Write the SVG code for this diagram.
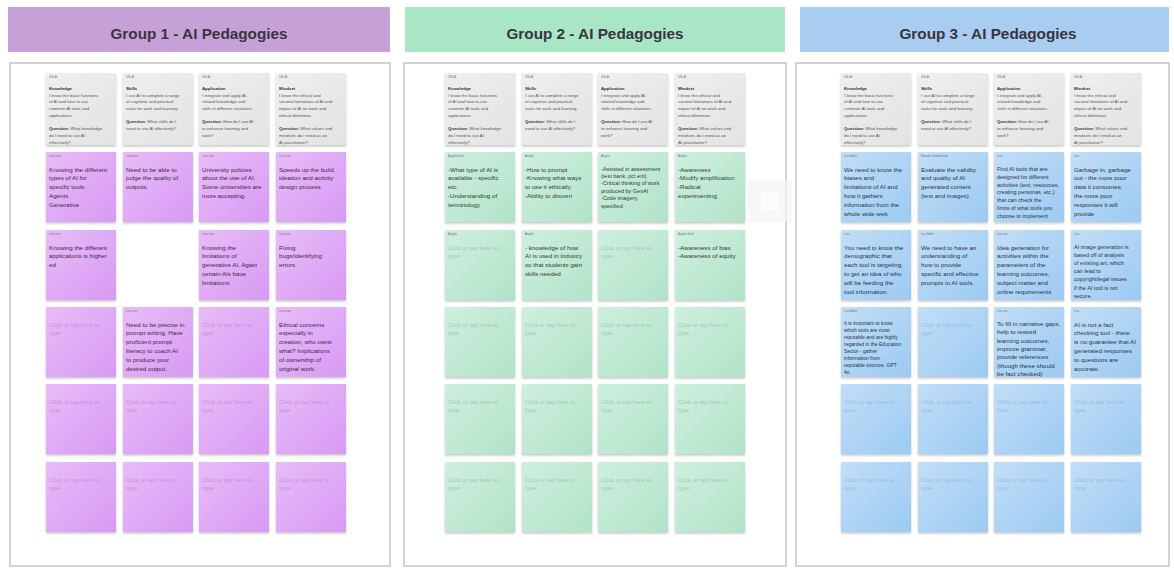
<svg xmlns="http://www.w3.org/2000/svg" width="1174" height="569" viewBox="0 0 1174 569">
  <defs>
    <linearGradient id="grad-purple" x1="0" y1="0" x2="1" y2="1">
      <stop offset="0" stop-color="#e8bcf8"/>
      <stop offset="1" stop-color="#d89af3"/>
    </linearGradient>
    <linearGradient id="grad-green" x1="0" y1="0" x2="1" y2="1">
      <stop offset="0" stop-color="#cfefdf"/>
      <stop offset="1" stop-color="#b1e3c8"/>
    </linearGradient>
    <linearGradient id="grad-blue" x1="0" y1="0" x2="1" y2="1">
      <stop offset="0" stop-color="#c2def7"/>
      <stop offset="1" stop-color="#9ccaf2"/>
    </linearGradient>
    <linearGradient id="grad-gray" x1="0" y1="0" x2="1" y2="1">
      <stop offset="0" stop-color="#efefef"/>
      <stop offset="1" stop-color="#e3e3e3"/>
    </linearGradient>
    <filter id="lift" x="-10%" y="-10%" width="120%" height="125%">
      <feDropShadow dx="0" dy="1.6" stdDeviation="1" flood-color="#000" flood-opacity="0.22"/>
    </filter>
    <style>
      text { font-family: "Liberation Sans", Arial, sans-serif; }
      .hdr-text { font-size: 15.3px; font-weight: bold; fill: #3a3440; text-anchor: middle; }
      .frame { fill: #ffffff; stroke: #c8c8c8; stroke-width: 1.6; }
      .sticky { filter: url(#lift); }
      .purple { fill: url(#grad-purple); }
      .green { fill: url(#grad-green); }
      .blue { fill: url(#grad-blue); }
      .card { fill: url(#grad-gray); filter: url(#lift); }
      .who { font-size: 2.8px; fill: #6f6f6f; }
      .note { font-size: 6.2px; }
      .note.small { font-size: 5.5px; }
      .note.tiny { font-size: 5px; }
      .p-ink { fill: #3b2a47; }
      .g-ink { fill: #2f3d35; }
      .b-ink { fill: #25364a; }
      .hint { font-size: 6px; }
      .p-hint { fill: #c690df; }
      .g-hint { fill: #9ccbb2; }
      .b-hint { fill: #94bde3; }
      .ctext { font-size: 4.3px; fill: #555; }
      .ctitle { font-weight: bold; fill: #333; }
      .ghost { fill: #f3f3f3; opacity: 0.7; }
    </style>
  </defs>

  <rect width="1174" height="569" fill="#ffffff"/>

  <!-- ===== Column headers ===== -->
  <g id="header-1">
    <rect x="8" y="7" width="382" height="45" fill="#c6a1d8"/>
    <text class="hdr-text" x="199" y="39">Group 1 - AI Pedagogies</text>
  </g>
  <g id="header-2">
    <rect x="405" y="7" width="380" height="45" fill="#a9e6c6"/>
    <text class="hdr-text" x="595" y="39">Group 2 - AI Pedagogies</text>
  </g>
  <g id="header-3">
    <rect x="800" y="7" width="369" height="45" fill="#a8cdf1"/>
    <text class="hdr-text" x="988" y="39">Group 3 - AI Pedagogies</text>
  </g>

  <!-- ===== Boards ===== -->
  <g id="board-1"><rect class="frame" x="10" y="63" width="380" height="503"/></g>
  <g id="board-2"><rect class="frame" x="404" y="63" width="382" height="503"/></g>
  <g id="board-3"><rect class="frame" x="796" y="63" width="373" height="503"/></g>

  <!-- ===== Framework cards (grey) ===== -->
  <!-- Group 1 -->
  <g id="g1-knowledge" transform="translate(46,73)">
    <rect class="card" width="70" height="72"/>
    <text class="who" x="3" y="5">UNI-AI</text>
    <text class="ctext" x="3" y="17"><tspan class="ctitle">Knowledge</tspan><tspan x="3" dy="6.7">I know the basic functions</tspan><tspan x="3" dy="6.7">of AI and how to use</tspan><tspan x="3" dy="6.7">common AI tools and</tspan><tspan x="3" dy="6.7">applications.</tspan><tspan x="3" dy="13.3" class="ctitle">Question:</tspan> What knowledge<tspan x="3" dy="6.7">do I need to use AI</tspan><tspan x="3" dy="6.7">effectively?</tspan></text>
  </g>
  <g id="g1-skills" transform="translate(123,73)">
    <rect class="card" width="70" height="72"/>
    <text class="who" x="3" y="5">UNI-AI</text>
    <text class="ctext" x="3" y="17"><tspan class="ctitle">Skills</tspan><tspan x="3" dy="6.7">I use AI to complete a range</tspan><tspan x="3" dy="6.7">of cognitive and practical</tspan><tspan x="3" dy="6.7">tasks for work and learning.</tspan><tspan x="3" dy="13.3" class="ctitle">Question:</tspan> What skills do I<tspan x="3" dy="6.7">need to use AI effectively?</tspan></text>
  </g>
  <g id="g1-application" transform="translate(199,73)">
    <rect class="card" width="70" height="72"/>
    <text class="who" x="3" y="5">UNI-AI</text>
    <text class="ctext" x="3" y="17"><tspan class="ctitle">Application</tspan><tspan x="3" dy="6.7">I integrate and apply AI-</tspan><tspan x="3" dy="6.7">related knowledge and</tspan><tspan x="3" dy="6.7">skills in different situations.</tspan><tspan x="3" dy="13.3" class="ctitle">Question:</tspan> How do I use AI<tspan x="3" dy="6.7">to enhance learning and</tspan><tspan x="3" dy="6.7">work?</tspan></text>
  </g>
  <g id="g1-mindset" transform="translate(276,73)">
    <rect class="card" width="70" height="72"/>
    <text class="who" x="3" y="5">UNI-AI</text>
    <text class="ctext" x="3" y="17"><tspan class="ctitle">Mindset</tspan><tspan x="3" dy="6.7">I know the ethical and</tspan><tspan x="3" dy="6.7">societal limitations of AI and</tspan><tspan x="3" dy="6.7">impact of AI on work and</tspan><tspan x="3" dy="6.7">ethical dilemmas.</tspan><tspan x="3" dy="13.3" class="ctitle">Question:</tspan> What values and<tspan x="3" dy="6.7">mindsets do I need as an</tspan><tspan x="3" dy="6.7">AI practitioner?</tspan></text>
  </g>
  <!-- Group 2 -->
  <g id="g2-knowledge" transform="translate(445,73)">
    <rect class="card" width="70" height="72"/>
    <text class="who" x="3" y="5">UNI-AI</text>
    <text class="ctext" x="3" y="17"><tspan class="ctitle">Knowledge</tspan><tspan x="3" dy="6.7">I know the basic functions</tspan><tspan x="3" dy="6.7">of AI and how to use</tspan><tspan x="3" dy="6.7">common AI tools and</tspan><tspan x="3" dy="6.7">applications.</tspan><tspan x="3" dy="13.3" class="ctitle">Question:</tspan> What knowledge<tspan x="3" dy="6.7">do I need to use AI</tspan><tspan x="3" dy="6.7">effectively?</tspan></text>
  </g>
  <g id="g2-skills" transform="translate(522,73)">
    <rect class="card" width="70" height="72"/>
    <text class="who" x="3" y="5">UNI-AI</text>
    <text class="ctext" x="3" y="17"><tspan class="ctitle">Skills</tspan><tspan x="3" dy="6.7">I use AI to complete a range</tspan><tspan x="3" dy="6.7">of cognitive and practical</tspan><tspan x="3" dy="6.7">tasks for work and learning.</tspan><tspan x="3" dy="13.3" class="ctitle">Question:</tspan> What skills do I<tspan x="3" dy="6.7">need to use AI effectively?</tspan></text>
  </g>
  <g id="g2-application" transform="translate(598,73)">
    <rect class="card" width="70" height="72"/>
    <text class="who" x="3" y="5">UNI-AI</text>
    <text class="ctext" x="3" y="17"><tspan class="ctitle">Application</tspan><tspan x="3" dy="6.7">I integrate and apply AI-</tspan><tspan x="3" dy="6.7">related knowledge and</tspan><tspan x="3" dy="6.7">skills in different situations.</tspan><tspan x="3" dy="13.3" class="ctitle">Question:</tspan> How do I use AI<tspan x="3" dy="6.7">to enhance learning and</tspan><tspan x="3" dy="6.7">work?</tspan></text>
  </g>
  <g id="g2-mindset" transform="translate(675,73)">
    <rect class="card" width="70" height="72"/>
    <text class="who" x="3" y="5">UNI-AI</text>
    <text class="ctext" x="3" y="17"><tspan class="ctitle">Mindset</tspan><tspan x="3" dy="6.7">I know the ethical and</tspan><tspan x="3" dy="6.7">societal limitations of AI and</tspan><tspan x="3" dy="6.7">impact of AI on work and</tspan><tspan x="3" dy="6.7">ethical dilemmas.</tspan><tspan x="3" dy="13.3" class="ctitle">Question:</tspan> What values and<tspan x="3" dy="6.7">mindsets do I need as an</tspan><tspan x="3" dy="6.7">AI practitioner?</tspan></text>
  </g>
  <!-- Group 3 -->
  <g id="g3-knowledge" transform="translate(841,73)">
    <rect class="card" width="70" height="72"/>
    <text class="who" x="3" y="5">UNI-AI</text>
    <text class="ctext" x="3" y="17"><tspan class="ctitle">Knowledge</tspan><tspan x="3" dy="6.7">I know the basic functions</tspan><tspan x="3" dy="6.7">of AI and how to use</tspan><tspan x="3" dy="6.7">common AI tools and</tspan><tspan x="3" dy="6.7">applications.</tspan><tspan x="3" dy="13.3" class="ctitle">Question:</tspan> What knowledge<tspan x="3" dy="6.7">do I need to use AI</tspan><tspan x="3" dy="6.7">effectively?</tspan></text>
  </g>
  <g id="g3-skills" transform="translate(918,73)">
    <rect class="card" width="70" height="72"/>
    <text class="who" x="3" y="5">UNI-AI</text>
    <text class="ctext" x="3" y="17"><tspan class="ctitle">Skills</tspan><tspan x="3" dy="6.7">I use AI to complete a range</tspan><tspan x="3" dy="6.7">of cognitive and practical</tspan><tspan x="3" dy="6.7">tasks for work and learning.</tspan><tspan x="3" dy="13.3" class="ctitle">Question:</tspan> What skills do I<tspan x="3" dy="6.7">need to use AI effectively?</tspan></text>
  </g>
  <g id="g3-application" transform="translate(994,73)">
    <rect class="card" width="70" height="72"/>
    <text class="who" x="3" y="5">UNI-AI</text>
    <text class="ctext" x="3" y="17"><tspan class="ctitle">Application</tspan><tspan x="3" dy="6.7">I integrate and apply AI-</tspan><tspan x="3" dy="6.7">related knowledge and</tspan><tspan x="3" dy="6.7">skills in different situations.</tspan><tspan x="3" dy="13.3" class="ctitle">Question:</tspan> How do I use AI<tspan x="3" dy="6.7">to enhance learning and</tspan><tspan x="3" dy="6.7">work?</tspan></text>
  </g>
  <g id="g3-mindset" transform="translate(1071,73)">
    <rect class="card" width="70" height="72"/>
    <text class="who" x="3" y="5">UNI-AI</text>
    <text class="ctext" x="3" y="17"><tspan class="ctitle">Mindset</tspan><tspan x="3" dy="6.7">I know the ethical and</tspan><tspan x="3" dy="6.7">societal limitations of AI and</tspan><tspan x="3" dy="6.7">impact of AI on work and</tspan><tspan x="3" dy="6.7">ethical dilemmas.</tspan><tspan x="3" dy="13.3" class="ctitle">Question:</tspan> What values and<tspan x="3" dy="6.7">mindsets do I need as an</tspan><tspan x="3" dy="6.7">AI practitioner?</tspan></text>
  </g>

  <!-- ===== Group 1 sticky notes (purple) ===== -->
  <g id="g1-r1c1" transform="translate(46,152)">
    <rect class="sticky purple" width="70" height="70"/>
    <text class="who" x="3" y="5">Lesa Lee</text>
    <text class="note p-ink" x="3" y="19.5"><tspan x="3">Knowing the different</tspan><tspan x="3" dy="8.8">types of AI for</tspan><tspan x="3" dy="8.8">specific tools</tspan><tspan x="3" dy="8.8">Agents</tspan><tspan x="3" dy="8.8">Generative</tspan></text>
  </g>
  <g id="g1-r1c2" transform="translate(123,152)">
    <rect class="sticky purple" width="70" height="70"/>
    <text class="who" x="3" y="5">Lesa Lee</text>
    <text class="note p-ink" x="3" y="19.5"><tspan x="3">Need to be able to</tspan><tspan x="3" dy="8.8">judge the quality of</tspan><tspan x="3" dy="8.8">outputs.</tspan></text>
  </g>
  <g id="g1-r1c3" transform="translate(199,152)">
    <rect class="sticky purple" width="70" height="70"/>
    <text class="who" x="3" y="5">Lesa Lee</text>
    <text class="note p-ink" x="3" y="19.5"><tspan x="3">University policies</tspan><tspan x="3" dy="8.8">about the use of AI.</tspan><tspan x="3" dy="8.8">Some universities are</tspan><tspan x="3" dy="8.8">more accepting.</tspan></text>
  </g>
  <g id="g1-r1c4" transform="translate(276,152)">
    <rect class="sticky purple" width="70" height="70"/>
    <text class="who" x="3" y="5">Lesa Lee</text>
    <text class="note p-ink" x="3" y="19.5"><tspan x="3">Speeds up the build,</tspan><tspan x="3" dy="8.8">ideation and activity</tspan><tspan x="3" dy="8.8">design process.</tspan></text>
  </g>
  <g id="g1-r2c1" transform="translate(46,230)">
    <rect class="sticky purple" width="70" height="70"/>
    <text class="who" x="3" y="5">Lesa Lee</text>
    <text class="note p-ink" x="3" y="19.5"><tspan x="3">Knowing the different</tspan><tspan x="3" dy="8.8">applications is higher</tspan><tspan x="3" dy="8.8">ed</tspan></text>
  </g>
  <g id="g1-r2c3" transform="translate(199,230)">
    <rect class="sticky purple" width="70" height="70"/>
    <text class="who" x="3" y="5">Lesa Lee</text>
    <text class="note p-ink" x="3" y="19.5"><tspan x="3">Knowing the</tspan><tspan x="3" dy="8.8">limitations of</tspan><tspan x="3" dy="8.8">generative AI. Again</tspan><tspan x="3" dy="8.8">certain AIs have</tspan><tspan x="3" dy="8.8">limitations</tspan></text>
  </g>
  <g id="g1-r2c4" transform="translate(276,230)">
    <rect class="sticky purple" width="70" height="70"/>
    <text class="who" x="3" y="5">Lesa Lee</text>
    <text class="note p-ink" x="3" y="19.5"><tspan x="3">Fixing</tspan><tspan x="3" dy="8.8">bugs/identifying</tspan><tspan x="3" dy="8.8">errors</tspan></text>
  </g>
  <g id="g1-r3c1" transform="translate(46,307)">
    <rect class="sticky purple" width="70" height="70"/>
    <text class="hint p-hint" x="3" y="19.5"><tspan x="3">Click or tap here to</tspan><tspan x="3" dy="8.8">type</tspan></text>
  </g>
  <g id="g1-r3c2" transform="translate(123,307)">
    <rect class="sticky purple" width="70" height="70"/>
    <text class="who" x="3" y="5">Lesa Lee</text>
    <text class="note p-ink" x="3" y="19.5"><tspan x="3">Need to be precise in</tspan><tspan x="3" dy="8.8">prompt writing. Have</tspan><tspan x="3" dy="8.8">proficient prompt</tspan><tspan x="3" dy="8.8">literacy to coach AI</tspan><tspan x="3" dy="8.8">to produce your</tspan><tspan x="3" dy="8.8">desired output.</tspan></text>
  </g>
  <g id="g1-r3c3" transform="translate(199,307)">
    <rect class="sticky purple" width="70" height="70"/>
    <text class="hint p-hint" x="3" y="19.5"><tspan x="3">Click or tap here to</tspan><tspan x="3" dy="8.8">type</tspan></text>
  </g>
  <g id="g1-r3c4" transform="translate(276,307)">
    <rect class="sticky purple" width="70" height="70"/>
    <text class="who" x="3" y="5">Lesa Lee</text>
    <text class="note p-ink" x="3" y="19.5"><tspan x="3">Ethical concerns</tspan><tspan x="3" dy="8.8">especially in</tspan><tspan x="3" dy="8.8">creation, who owns</tspan><tspan x="3" dy="8.8">what? Implications</tspan><tspan x="3" dy="8.8">of ownership of</tspan><tspan x="3" dy="8.8">original work.</tspan></text>
  </g>
  <g id="g1-r4c1" transform="translate(46,384)"><rect class="sticky purple" width="70" height="70"/><text class="hint p-hint" x="3" y="19.5"><tspan x="3">Click or tap here to</tspan><tspan x="3" dy="8.8">type</tspan></text></g>
  <g id="g1-r4c2" transform="translate(123,384)"><rect class="sticky purple" width="70" height="70"/><text class="hint p-hint" x="3" y="19.5"><tspan x="3">Click or tap here to</tspan><tspan x="3" dy="8.8">type</tspan></text></g>
  <g id="g1-r4c3" transform="translate(199,384)"><rect class="sticky purple" width="70" height="70"/><text class="hint p-hint" x="3" y="19.5"><tspan x="3">Click or tap here to</tspan><tspan x="3" dy="8.8">type</tspan></text></g>
  <g id="g1-r4c4" transform="translate(276,384)"><rect class="sticky purple" width="70" height="70"/><text class="hint p-hint" x="3" y="19.5"><tspan x="3">Click or tap here to</tspan><tspan x="3" dy="8.8">type</tspan></text></g>
  <g id="g1-r5c1" transform="translate(46,462)"><rect class="sticky purple" width="70" height="70"/><text class="hint p-hint" x="3" y="19.5"><tspan x="3">Click or tap here to</tspan><tspan x="3" dy="8.8">type</tspan></text></g>
  <g id="g1-r5c2" transform="translate(123,462)"><rect class="sticky purple" width="70" height="70"/><text class="hint p-hint" x="3" y="19.5"><tspan x="3">Click or tap here to</tspan><tspan x="3" dy="8.8">type</tspan></text></g>
  <g id="g1-r5c3" transform="translate(199,462)"><rect class="sticky purple" width="70" height="70"/><text class="hint p-hint" x="3" y="19.5"><tspan x="3">Click or tap here to</tspan><tspan x="3" dy="8.8">type</tspan></text></g>
  <g id="g1-r5c4" transform="translate(276,462)"><rect class="sticky purple" width="70" height="70"/><text class="hint p-hint" x="3" y="19.5"><tspan x="3">Click or tap here to</tspan><tspan x="3" dy="8.8">type</tspan></text></g>

  <!-- ===== Group 2 sticky notes (green) ===== -->
  <g id="g2-r1c1" transform="translate(445,152)">
    <rect class="sticky green" width="70" height="70"/>
    <text class="who" x="3" y="5">Angela Scott</text>
    <text class="note g-ink" x="3" y="19.5"><tspan x="3">-What type of AI is</tspan><tspan x="3" dy="8.8">available - specific</tspan><tspan x="3" dy="8.8">etc.</tspan><tspan x="3" dy="8.8">-Understanding of</tspan><tspan x="3" dy="8.8">terminology</tspan></text>
  </g>
  <g id="g2-r1c2" transform="translate(522,152)">
    <rect class="sticky green" width="70" height="70"/>
    <text class="who" x="3" y="5">Angela</text>
    <text class="note g-ink" x="3" y="19.5"><tspan x="3">-How to prompt</tspan><tspan x="3" dy="8.8">-Knowing what ways</tspan><tspan x="3" dy="8.8">to use it ethically</tspan><tspan x="3" dy="8.8">-Ability to discern</tspan></text>
  </g>
  <g id="g2-r1c3" transform="translate(598,152)">
    <rect class="sticky green" width="70" height="70"/>
    <text class="who" x="3" y="5">Angela</text>
    <text class="note small g-ink" x="3" y="18.5"><tspan x="3">-Assisted in assessment</tspan><tspan x="3" dy="7.4">(test bank, pct ent)</tspan><tspan x="3" dy="7.4">-Critical thinking of work</tspan><tspan x="3" dy="7.4">produced by GenAI</tspan><tspan x="3" dy="7.4">-Code imagery,</tspan><tspan x="3" dy="7.4">specified</tspan></text>
  </g>
  <g id="g2-r1c4" transform="translate(675,152)">
    <rect class="sticky green" width="70" height="70"/>
    <text class="who" x="3" y="5">Angela</text>
    <text class="note g-ink" x="3" y="19.5"><tspan x="3">-Awareness</tspan><tspan x="3" dy="8.8">-Modify amplification</tspan><tspan x="3" dy="8.8">-Radical</tspan><tspan x="3" dy="8.8">experimenting</tspan></text>
  </g>
  <g id="g2-r2c1" transform="translate(445,230)">
    <rect class="sticky green" width="70" height="70"/>
    <text class="who" x="3" y="5">Angela</text>
    <text class="hint g-hint" x="3" y="19.5"><tspan x="3">Click or tap here to</tspan><tspan x="3" dy="8.8">type</tspan></text>
  </g>
  <g id="g2-r2c2" transform="translate(522,230)">
    <rect class="sticky green" width="70" height="70"/>
    <text class="who" x="3" y="5">Angela</text>
    <text class="note g-ink" x="3" y="19.5"><tspan x="3">- knowledge of how</tspan><tspan x="3" dy="8.8">AI is used in industry</tspan><tspan x="3" dy="8.8">so that students gain</tspan><tspan x="3" dy="8.8">skills needed</tspan></text>
  </g>
  <g id="g2-r2c3" transform="translate(598,230)">
    <rect class="sticky green" width="70" height="70"/>
    <text class="hint g-hint" x="3" y="19.5"><tspan x="3">Click or tap here to</tspan><tspan x="3" dy="8.8">type</tspan></text>
  </g>
  <g id="g2-r2c4" transform="translate(675,230)">
    <rect class="sticky green" width="70" height="70"/>
    <text class="who" x="3" y="5">Angela Scott</text>
    <text class="note g-ink" x="3" y="19.5"><tspan x="3">-Awareness of bias</tspan><tspan x="3" dy="8.8">-Awareness of equity</tspan></text>
  </g>
  <g id="g2-r3c1" transform="translate(445,307)"><rect class="sticky green" width="70" height="70"/><text class="hint g-hint" x="3" y="19.5"><tspan x="3">Click or tap here to</tspan><tspan x="3" dy="8.8">type</tspan></text></g>
  <g id="g2-r3c2" transform="translate(522,307)"><rect class="sticky green" width="70" height="70"/><text class="hint g-hint" x="3" y="19.5"><tspan x="3">Click or tap here to</tspan><tspan x="3" dy="8.8">type</tspan></text></g>
  <g id="g2-r3c3" transform="translate(598,307)"><rect class="sticky green" width="70" height="70"/><text class="hint g-hint" x="3" y="19.5"><tspan x="3">Click or tap here to</tspan><tspan x="3" dy="8.8">type</tspan></text></g>
  <g id="g2-r3c4" transform="translate(675,307)"><rect class="sticky green" width="70" height="70"/><text class="hint g-hint" x="3" y="19.5"><tspan x="3">Click or tap here to</tspan><tspan x="3" dy="8.8">type</tspan></text></g>
  <g id="g2-r4c1" transform="translate(445,384)"><rect class="sticky green" width="70" height="70"/><text class="hint g-hint" x="3" y="19.5"><tspan x="3">Click or tap here to</tspan><tspan x="3" dy="8.8">type</tspan></text></g>
  <g id="g2-r4c2" transform="translate(522,384)"><rect class="sticky green" width="70" height="70"/><text class="hint g-hint" x="3" y="19.5"><tspan x="3">Click or tap here to</tspan><tspan x="3" dy="8.8">type</tspan></text></g>
  <g id="g2-r4c3" transform="translate(598,384)"><rect class="sticky green" width="70" height="70"/><text class="hint g-hint" x="3" y="19.5"><tspan x="3">Click or tap here to</tspan><tspan x="3" dy="8.8">type</tspan></text></g>
  <g id="g2-r4c4" transform="translate(675,384)"><rect class="sticky green" width="70" height="70"/><text class="hint g-hint" x="3" y="19.5"><tspan x="3">Click or tap here to</tspan><tspan x="3" dy="8.8">type</tspan></text></g>
  <g id="g2-r5c1" transform="translate(445,462)"><rect class="sticky green" width="70" height="70"/><text class="hint g-hint" x="3" y="19.5"><tspan x="3">Click or tap here to</tspan><tspan x="3" dy="8.8">type</tspan></text></g>
  <g id="g2-r5c2" transform="translate(522,462)"><rect class="sticky green" width="70" height="70"/><text class="hint g-hint" x="3" y="19.5"><tspan x="3">Click or tap here to</tspan><tspan x="3" dy="8.8">type</tspan></text></g>
  <g id="g2-r5c3" transform="translate(598,462)"><rect class="sticky green" width="70" height="70"/><text class="hint g-hint" x="3" y="19.5"><tspan x="3">Click or tap here to</tspan><tspan x="3" dy="8.8">type</tspan></text></g>
  <g id="g2-r5c4" transform="translate(675,462)"><rect class="sticky green" width="70" height="70"/><text class="hint g-hint" x="3" y="19.5"><tspan x="3">Click or tap here to</tspan><tspan x="3" dy="8.8">type</tspan></text></g>

  <!-- faded note being dragged at the board edge -->
  <g id="g2-drag">
    <rect class="ghost" x="748" y="180" width="44" height="42"/>
    <rect x="761" y="192" width="18" height="18" fill="#ffffff" opacity="0.6"/>
  </g>

  <!-- ===== Group 3 sticky notes (blue) ===== -->
  <g id="g3-r1c1" transform="translate(841,152)">
    <rect class="sticky blue" width="70" height="70"/>
    <text class="who" x="3" y="5">Lisa Baker</text>
    <text class="note b-ink" x="3" y="19.5"><tspan x="3">We need to know the</tspan><tspan x="3" dy="8.8">biases and</tspan><tspan x="3" dy="8.8">limitations of AI and</tspan><tspan x="3" dy="8.8">how it gathers</tspan><tspan x="3" dy="8.8">information from the</tspan><tspan x="3" dy="8.8">whole wide web</tspan></text>
  </g>
  <g id="g3-r1c2" transform="translate(918,152)">
    <rect class="sticky blue" width="70" height="70"/>
    <text class="who" x="3" y="5">Natasha Vanderstoep</text>
    <text class="note b-ink" x="3" y="19.5"><tspan x="3">Evaluate the validity</tspan><tspan x="3" dy="8.8">and quality of AI</tspan><tspan x="3" dy="8.8">generated content</tspan><tspan x="3" dy="8.8">(text and images)</tspan></text>
  </g>
  <g id="g3-r1c3" transform="translate(994,152)">
    <rect class="sticky blue" width="70" height="70"/>
    <text class="who" x="3" y="5">Lisa</text>
    <text class="note small b-ink" x="3" y="19"><tspan x="3">Find AI tools that are</tspan><tspan x="3" dy="7.8">designed for different</tspan><tspan x="3" dy="7.8">activities (text, resources,</tspan><tspan x="3" dy="7.8">creating personas, etc.)</tspan><tspan x="3" dy="7.8">that can check the</tspan><tspan x="3" dy="7.8">limits of what tools you</tspan><tspan x="3" dy="7.8">choose to implement</tspan></text>
  </g>
  <g id="g3-r1c4" transform="translate(1071,152)">
    <rect class="sticky blue" width="70" height="70"/>
    <text class="who" x="3" y="5">Lisa</text>
    <text class="note b-ink" x="3" y="19.5"><tspan x="3">Garbage in, garbage</tspan><tspan x="3" dy="8.8">out - the more poor</tspan><tspan x="3" dy="8.8">data it consumes,</tspan><tspan x="3" dy="8.8">the more poor</tspan><tspan x="3" dy="8.8">responses it will</tspan><tspan x="3" dy="8.8">provide</tspan></text>
  </g>
  <g id="g3-r2c1" transform="translate(841,230)">
    <rect class="sticky blue" width="70" height="70"/>
    <text class="who" x="3" y="5">Lisa</text>
    <text class="note b-ink" x="3" y="19.5"><tspan x="3">You need to know the</tspan><tspan x="3" dy="8.8">demographic that</tspan><tspan x="3" dy="8.8">each tool is targeting,</tspan><tspan x="3" dy="8.8">to get an idea of who</tspan><tspan x="3" dy="8.8">will be feeding the</tspan><tspan x="3" dy="8.8">tool information.</tspan></text>
  </g>
  <g id="g3-r2c2" transform="translate(918,230)">
    <rect class="sticky blue" width="70" height="70"/>
    <text class="who" x="3" y="5">Lisa Baker</text>
    <text class="note b-ink" x="3" y="19.5"><tspan x="3">We need to have an</tspan><tspan x="3" dy="8.8">understanding of</tspan><tspan x="3" dy="8.8">how to provide</tspan><tspan x="3" dy="8.8">specific and effective</tspan><tspan x="3" dy="8.8">prompts to AI tools.</tspan></text>
  </g>
  <g id="g3-r2c3" transform="translate(994,230)">
    <rect class="sticky blue" width="70" height="70"/>
    <text class="who" x="3" y="5">Lisa Lee</text>
    <text class="note b-ink" x="3" y="19.5"><tspan x="3">Idea generation for</tspan><tspan x="3" dy="8.8">activities within the</tspan><tspan x="3" dy="8.8">parameters of the</tspan><tspan x="3" dy="8.8">learning outcomes,</tspan><tspan x="3" dy="8.8">subject matter and</tspan><tspan x="3" dy="8.8">online requirements</tspan></text>
  </g>
  <g id="g3-r2c4" transform="translate(1071,230)">
    <rect class="sticky blue" width="70" height="70"/>
    <text class="who" x="3" y="5">Lisa</text>
    <text class="note small b-ink" x="3" y="19"><tspan x="3">AI image generation is</tspan><tspan x="3" dy="8.1">based off of analysis</tspan><tspan x="3" dy="8.1">of existing art, which</tspan><tspan x="3" dy="8.1">can lead to</tspan><tspan x="3" dy="8.1">copyright/legal issues</tspan><tspan x="3" dy="8.1">if the AI tool is not</tspan><tspan x="3" dy="8.1">secure.</tspan></text>
  </g>
  <g id="g3-r3c1" transform="translate(841,307)">
    <rect class="sticky blue" width="70" height="70"/>
    <text class="who" x="3" y="5">Lisa Baker</text>
    <text class="note tiny b-ink" x="3" y="17.5"><tspan x="3">It is important to know</tspan><tspan x="3" dy="7">which tools are most</tspan><tspan x="3" dy="7">reputable and are highly</tspan><tspan x="3" dy="7">regarded in the Education</tspan><tspan x="3" dy="7">Sector - gather</tspan><tspan x="3" dy="7">information from</tspan><tspan x="3" dy="7">reputable sources. GPT</tspan><tspan x="3" dy="7">4o</tspan></text>
  </g>
  <g id="g3-r3c2" transform="translate(918,307)">
    <rect class="sticky blue" width="70" height="70"/>
    <text class="hint b-hint" x="3" y="19.5"><tspan x="3">Click or tap here to</tspan><tspan x="3" dy="8.8">type</tspan></text>
  </g>
  <g id="g3-r3c3" transform="translate(994,307)">
    <rect class="sticky blue" width="70" height="70"/>
    <text class="who" x="3" y="5">Lisa Lee</text>
    <text class="note b-ink" x="3" y="19"><tspan x="3">To fill in narrative gaps,</tspan><tspan x="3" dy="8.3">help to reword</tspan><tspan x="3" dy="8.3">learning outcomes,</tspan><tspan x="3" dy="8.3">improve grammar,</tspan><tspan x="3" dy="8.3">provide references</tspan><tspan x="3" dy="8.3">(though these should</tspan><tspan x="3" dy="8.3">be fact checked)</tspan></text>
  </g>
  <g id="g3-r3c4" transform="translate(1071,307)">
    <rect class="sticky blue" width="70" height="70"/>
    <text class="who" x="3" y="5">Lisa</text>
    <text class="note b-ink" x="3" y="19.5"><tspan x="3">AI is not a fact</tspan><tspan x="3" dy="8.8">checking tool - there</tspan><tspan x="3" dy="8.8">is no guarantee that AI</tspan><tspan x="3" dy="8.8">generated responses</tspan><tspan x="3" dy="8.8">to questions are</tspan><tspan x="3" dy="8.8">accurate.</tspan></text>
  </g>
  <g id="g3-r4c1" transform="translate(841,384)"><rect class="sticky blue" width="70" height="70"/><text class="hint b-hint" x="3" y="19.5"><tspan x="3">Click or tap here to</tspan><tspan x="3" dy="8.8">type</tspan></text></g>
  <g id="g3-r4c2" transform="translate(918,384)"><rect class="sticky blue" width="70" height="70"/><text class="hint b-hint" x="3" y="19.5"><tspan x="3">Click or tap here to</tspan><tspan x="3" dy="8.8">type</tspan></text></g>
  <g id="g3-r4c3" transform="translate(994,384)"><rect class="sticky blue" width="70" height="70"/><text class="hint b-hint" x="3" y="19.5"><tspan x="3">Click or tap here to</tspan><tspan x="3" dy="8.8">type</tspan></text></g>
  <g id="g3-r4c4" transform="translate(1071,384)"><rect class="sticky blue" width="70" height="70"/><text class="hint b-hint" x="3" y="19.5"><tspan x="3">Click or tap here to</tspan><tspan x="3" dy="8.8">type</tspan></text></g>
  <g id="g3-r5c1" transform="translate(841,462)"><rect class="sticky blue" width="70" height="70"/><text class="hint b-hint" x="3" y="19.5"><tspan x="3">Click or tap here to</tspan><tspan x="3" dy="8.8">type</tspan></text></g>
  <g id="g3-r5c2" transform="translate(918,462)"><rect class="sticky blue" width="70" height="70"/><text class="hint b-hint" x="3" y="19.5"><tspan x="3">Click or tap here to</tspan><tspan x="3" dy="8.8">type</tspan></text></g>
  <g id="g3-r5c3" transform="translate(994,462)"><rect class="sticky blue" width="70" height="70"/><text class="hint b-hint" x="3" y="19.5"><tspan x="3">Click or tap here to</tspan><tspan x="3" dy="8.8">type</tspan></text></g>
  <g id="g3-r5c4" transform="translate(1071,462)"><rect class="sticky blue" width="70" height="70"/><text class="hint b-hint" x="3" y="19.5"><tspan x="3">Click or tap here to</tspan><tspan x="3" dy="8.8">type</tspan></text></g>

  <!-- no connectors on this board -->
  <g id="connectors"/>
</svg>
